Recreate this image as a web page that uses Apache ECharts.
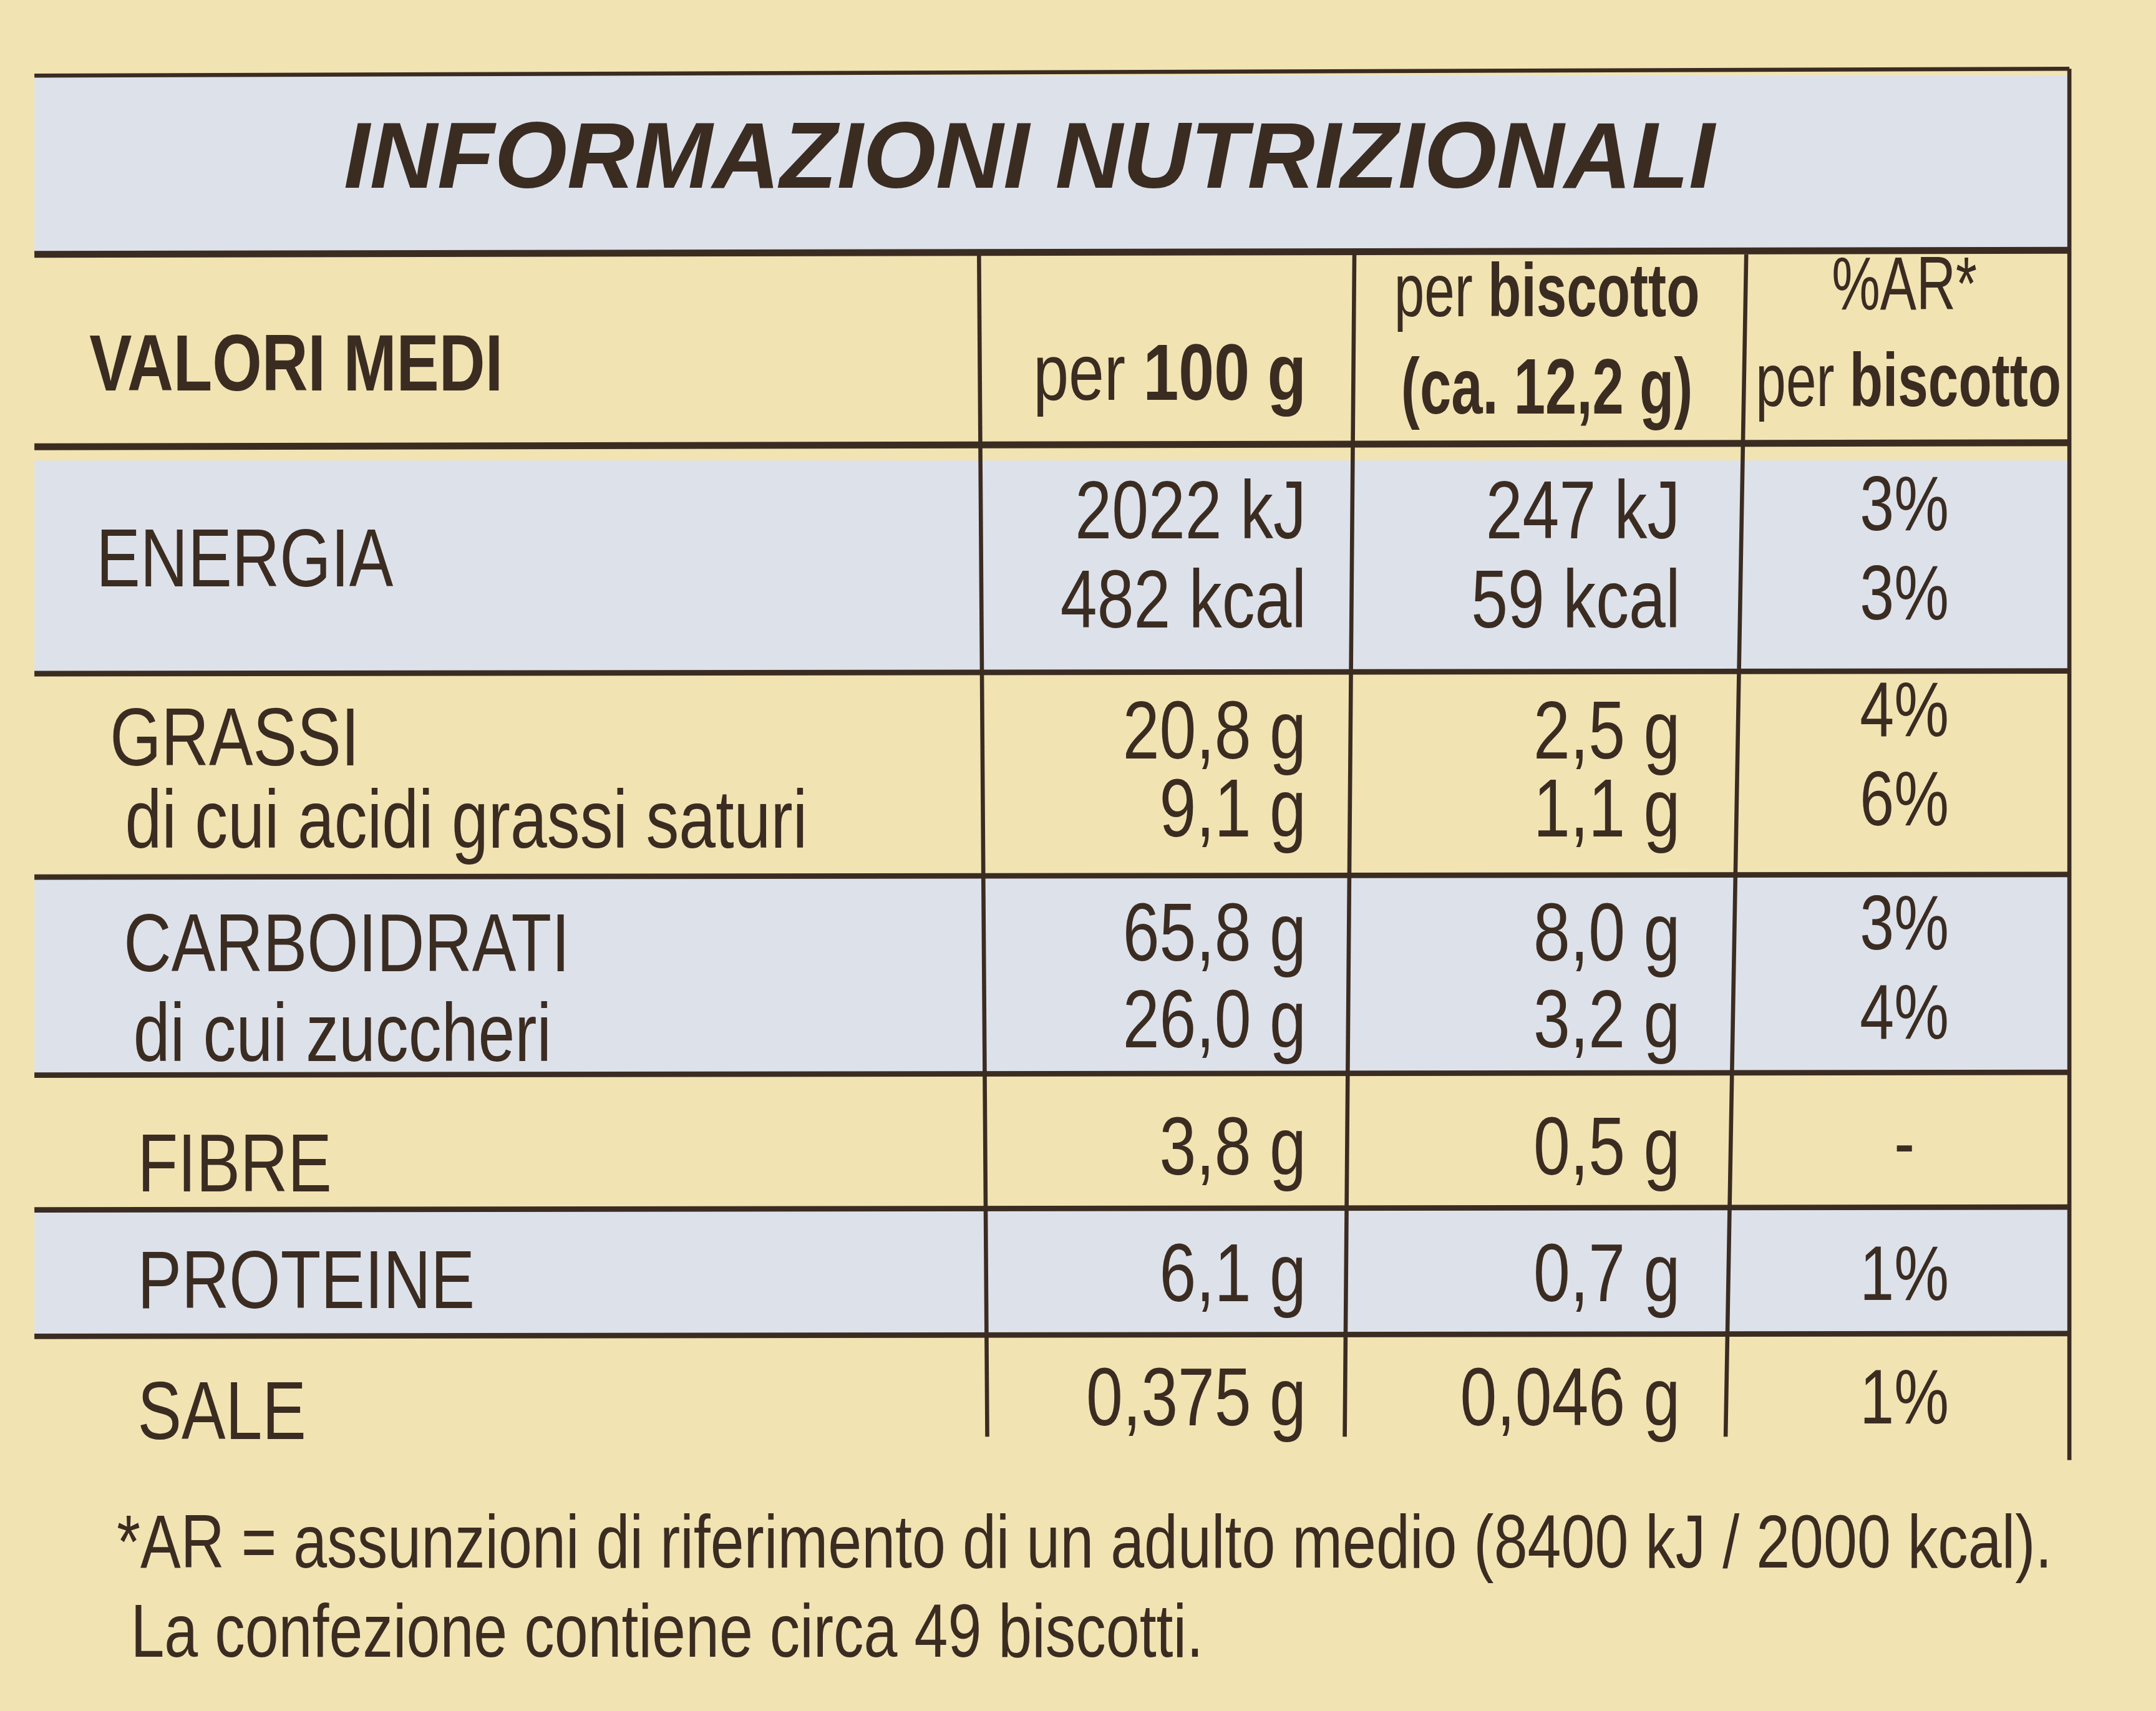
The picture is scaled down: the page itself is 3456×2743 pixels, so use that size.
<!DOCTYPE html>
<html>
<head>
<meta charset="utf-8">
<script src="https://cdn.jsdelivr.net/npm/echarts@6/dist/echarts.min.js"></script>
<style>html,body{margin:0;padding:0;background:#f2e3b3}#main{width:3456px;height:2743px}</style>
</head>
<body>
<div id="main"></div>
<script>
"use strict"

var title = "INFORMAZIONI NUTRIZIONALI";
var rowLabels = [["ENERGIA"], ["GRASSI", "di cui acidi grassi saturi"], ["CARBOIDRATI", "di cui zuccheri"], ["FIBRE"], ["PROTEINE"], ["SALE"]];
var per100 = [["2022 kJ", "482 kcal"], ["20,8 g", "9,1 g"], ["65,8 g", "26,0 g"], ["3,8 g"], ["6,1 g"], ["0,375 g"]];
var perBiscotto = [["247 kJ", "59 kcal"], ["2,5 g", "1,1 g"], ["8,0 g", "3,2 g"], ["0,5 g"], ["0,7 g"], ["0,046 g"]];
var arList = [["3%", "3%"], ["4%", "6%"], ["3%", "4%"], ["-"], ["1%"], ["1%"]];
var footer = ["*AR = assunzioni di riferimento di un adulto medio (8400 kJ / 2000 kcal).", "La confezione contiene circa 49 biscotti."];

var s = 3456 / 1568;
var ink = "#3b2c22";
var font = "'Liberation Sans Narrow', 'Liberation Sans', sans-serif";
var blue = "#dde1ea";

// bande e posizioni (coordinate della foto ridotta)
var bands = [[335, 490, true], [490, 638, false], [638, 782, true], [782, 880, false], [880, 972, true], [972, 1062, false]];
var labelY = [[410], [540, 600], [690, 755], [850], [935], [1030]];
var valY = [[375, 440], [535, 592], [682, 745], [838], [930], [1020]];
var arY = [[370, 435], [520, 585], [675, 740], [835], [930], [1020]];

function txt(x, y, str, size, opts){
    opts = opts || {};
    return {
        type: 'text', x: x * s, y: y * s, z: 10, scaleX: opts.sx || 0.8,
        style: {
            text: str, fill: opts.color || ink, font: (opts.weight || 'normal') + ' ' + (opts.italic ? 'italic ' : '') + (size * s) + 'px ' + font,
            textAlign: opts.align || 'left', textVerticalAlign: 'middle', rich: opts.rich
        }
    };
}
function mixed(size){
    return {
        n: {fontSize: size * s, fontFamily: font, fill: ink},
        b: {fontSize: size * s, fontFamily: font, fontWeight: 'bold', fill: ink}
    };
}
function line(x1, y1, x2, y2, w){
    return {type: 'line', z: 5, shape: {x1: x1 * s, y1: y1 * s, x2: x2 * s, y2: y2 * s}, style: {stroke: ink, lineWidth: w * s}};
}

var g = [];
g.push({type: 'rect', shape: {x: 0, y: 0, width: 3456, height: 2743}, style: {fill: '#f2e3b3'}});
g.push({type: 'rect', shape: {x: 25 * s, y: 55 * s, width: 1480 * s, height: 128 * s}, style: {fill: blue}});
bands.forEach(function(b){
    if(b[2]) g.push({type: 'rect', shape: {x: 25 * s, y: b[0] * s, width: 1480 * s, height: (b[1] - b[0]) * s}, style: {fill: blue}});
});
g.push(line(25, 55, 1505, 50, 3));
g.push(line(25, 185, 1505, 182, 5));
g.push(line(25, 325, 1505, 322, 5));
bands.forEach(function(b, i){
    if(i > 0) g.push(line(25, b[0], 1505, b[0] - 2, 4));
});
g.push(line(712, 185, 718, 1045, 3));
g.push(line(985, 185, 978, 1045, 3));
g.push(line(1270, 185, 1255, 1045, 3));
g.push(line(1505, 50, 1505, 1062, 3));

g.push(txt(250, 118, title, 68, {weight: 'bold', italic: true, sx: 1}));
g.push(txt(65, 268, "VALORI MEDI", 58, {weight: 'bold'}));
g.push(txt(950, 275, "{n|per }{b|100 g}", 58, {align: 'right', rich: mixed(58)}));
g.push(txt(1125, 215, "{n|per }{b|biscotto}", 55, {align: 'center', sx: 0.72, rich: mixed(55)}));
g.push(txt(1125, 285, "(ca. 12,2 g)", 57, {align: 'center', weight: 'bold', sx: 0.72}));
g.push(txt(1385, 210, "%AR*", 55, {align: 'center', sx: 0.72}));
g.push(txt(1388, 280, "{n|per }{b|biscotto}", 55, {align: 'center', sx: 0.72, rich: mixed(55)}));

rowLabels.forEach(function(lbl, i){
    lbl.forEach(function(t, j){
        g.push(txt(j === 0 ? 70 + (i > 2 ? 30 : i * 10) : 85 + i * 6, labelY[i][j], t, 60));
    });
    per100[i].forEach(function(t, j){ g.push(txt(950, valY[i][j], t, 60, {align: 'right'})); });
    perBiscotto[i].forEach(function(t, j){ g.push(txt(1222, valY[i][j], t, 60, {align: 'right'})); });
    arList[i].forEach(function(t, j){ g.push(txt(1385, arY[i][j], t, 56, {align: 'center'})); });
});

g.push(txt(85, 1125, footer[0], 55));
g.push(txt(95, 1190, footer[1], 55));

var chart = echarts.init(document.getElementById('main'));
chart.setOption({backgroundColor: '#f2e3b3', graphic: g});
</script>
</body>
</html>
